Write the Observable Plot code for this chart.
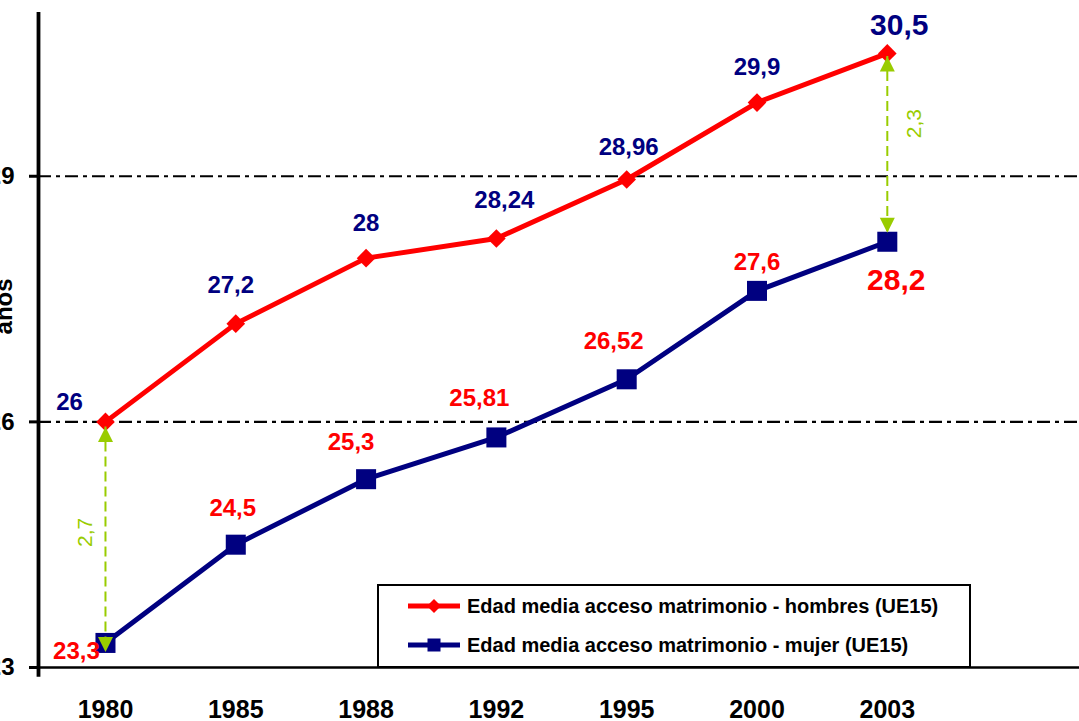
<!DOCTYPE html>
<html><head><meta charset="utf-8">
<script src="https://cdn.jsdelivr.net/npm/d3@7"></script>
<script src="https://cdn.jsdelivr.net/npm/@observablehq/plot@0.6"></script>
<style>
html,body{margin:0;padding:0;background:#fff;overflow:hidden;width:1079px;height:721px;}
#chart{position:absolute;left:-40px;top:0;}
#legend{position:absolute;left:377px;top:584px;width:590px;height:80px;border:2px solid #000;background:#fff;
  font-family:"Liberation Sans",Arial,sans-serif;font-weight:bold;font-size:20px;color:#000;}
.row{position:absolute;left:29px;height:24px;display:flex;align-items:center;white-space:nowrap;}
.row svg{margin-right:7px;}
</style></head><body>
<div id="chart"></div>
<div id="legend"></div>
<script>
// ---- data ----
const years = ["1980","1985","1988","1992","1995","2000","2003"];
const men = [26, 27.2, 28, 28.24, 28.96, 29.9, 30.5];
const women = [23.3, 24.5, 25.3, 25.81, 26.52, 27.6, 28.2];
const seriesNames = ["Edad media acceso matrimonio - hombres (UE15)", "Edad media acceso matrimonio - mujer (UE15)"];
const yTicks = [23, 26, 29];
const yLabel = "años";
const gapIdx = [0, 6];

// ---- layout / style ----
const RED = "#FF0000", NAVY = "#000080", GREEN = "#99CC00";
const FONT = '"Liberation Sans", Arial, sans-serif';
const xDomain = [-0.514, 7.475];
const menDx = [-36, -5, 0, 8, 2, 0, 12];
const menDy = [-20, -38, -35, -38, -32, -35, -28];
const womenDx = [-29, -3, -15, -17, -13, 0, 9];
const womenDy = [8, -36, -37, -39, -38, -29, 39];
const arrowTopDy = [5, 3];
const arrowBotDy = [9, -9];
const gapLabelDx = [-20, 27];
const gapLabelDy = [0, -24];

const fmt = v => String(v).replace(".", ",");
const rows = years.map((y, i) => ({i, year: y, men: men[i], women: women[i]}));
const gaps = gapIdx.map(i => ({i, top: men[i], bot: women[i], mid: (men[i] + women[i]) / 2,
  label: fmt(Math.round((men[i] - women[i]) * 10) / 10)}));

const arrowUp = {draw(c){ c.moveTo(0,0); c.lineTo(7.5,15); c.lineTo(-7.5,15); c.closePath(); }};
const arrowDown = {draw(c){ c.moveTo(0,0); c.lineTo(7.5,-15); c.lineTo(-7.5,-15); c.closePath(); }};

const marks = [
  Plot.ruleY([26, 29], {stroke: "#000", strokeWidth: 2.2, strokeDasharray: "13 5 4 5"}),
  Plot.ruleY([23], {stroke: "#000", strokeWidth: 2.5}),
  Plot.ruleX([xDomain[0]], {y1: 22.88, y2: 31, stroke: "#000", strokeWidth: 3.8}),
  Plot.axisY(yTicks, {label: null, tickSize: 9, tickPadding: 15, fontSize: 24, fontWeight: "bold", strokeWidth: 3, fill: "#000", tickFormat: d => String(d)}),
  Plot.axisX(d3.range(years.length), {label: null, tickSize: 0, tickPadding: 33, fontSize: 25, fontWeight: "bold", fill: "#000", tickFormat: i => years[i]}),
  Plot.text([yLabel], {frameAnchor: "left", y: () => 27.41, rotate: -90, dx: -27, textAnchor: "middle", lineAnchor: "bottom", fontSize: 24, fontWeight: "bold", fill: "#000"}),
  Plot.line(rows, {x: "i", y: "men", stroke: RED, strokeWidth: 5}),
  Plot.line(rows, {x: "i", y: "women", stroke: NAVY, strokeWidth: 5}),
  Plot.dot(rows, {x: "i", y: "men", symbol: "diamond2", r: 8.4, fill: RED}),
  Plot.dot(rows, {x: "i", y: "women", symbol: "square", r: 11.3, fill: NAVY}),
];
gaps.forEach((g, k) => {
  marks.push(Plot.ruleX([g], {x: "i", y1: "top", y2: "bot", stroke: GREEN, strokeWidth: 2, strokeDasharray: "10 5",
    insetTop: arrowTopDy[k], insetBottom: -arrowBotDy[k]}));
  marks.push(Plot.dot([g], {x: "i", y: "top", symbol: arrowUp, fill: GREEN, stroke: "none", dy: arrowTopDy[k]}));
  marks.push(Plot.dot([g], {x: "i", y: "bot", symbol: arrowDown, fill: GREEN, stroke: "none", dy: arrowBotDy[k]}));
  marks.push(Plot.text([g], {x: "i", y: "mid", text: "label", rotate: -90, dx: gapLabelDx[k], dy: gapLabelDy[k],
    fill: GREEN, fontSize: 21, fontWeight: "normal"}));
});
rows.forEach((d, i) => {
  const last = i === rows.length - 1;
  marks.push(Plot.text([d], {x: "i", y: "men", text: d => fmt(d.men), dx: menDx[i], dy: menDy[i],
    fill: NAVY, fontSize: last ? 30 : 24, fontWeight: "bold"}));
  marks.push(Plot.text([d], {x: "i", y: "women", text: d => fmt(d.women), dx: womenDx[i], dy: womenDy[i],
    fill: RED, fontSize: last ? 30 : 24, fontWeight: "bold"}));
});

const chart = Plot.plot({
  width: 1119, height: 721,
  marginLeft: 78, marginRight: 0, marginTop: 12, marginBottom: 54,
  x: {type: "linear", domain: xDomain, axis: null},
  y: {domain: [23, 31], axis: null},
  style: {fontFamily: FONT, fontWeight: "bold", maxWidth: "none", background: "white", overflow: "visible", color: "#000"},
  marks
});
document.getElementById("chart").appendChild(chart);

// ---- legend ----
const legend = document.getElementById("legend");
const swatches = [
  `<svg width="52" height="20"><line x1="0" x2="52" y1="10" y2="10" stroke="${RED}" stroke-width="5"/><path d="M26,3 L33,10 L26,17 L19,10Z" fill="${RED}"/></svg>`,
  `<svg width="52" height="20"><line x1="0" x2="52" y1="10" y2="10" stroke="${NAVY}" stroke-width="5"/><rect x="19.5" y="3.5" width="13" height="13" fill="${NAVY}"/></svg>`
];
const rowTops = [8, 47];
seriesNames.forEach((name, k) => {
  const r = document.createElement("div");
  r.className = "row";
  r.style.top = rowTops[k] + "px";
  r.innerHTML = swatches[k] + `<span>${name}</span>`;
  legend.appendChild(r);
});
</script>
</body></html>
